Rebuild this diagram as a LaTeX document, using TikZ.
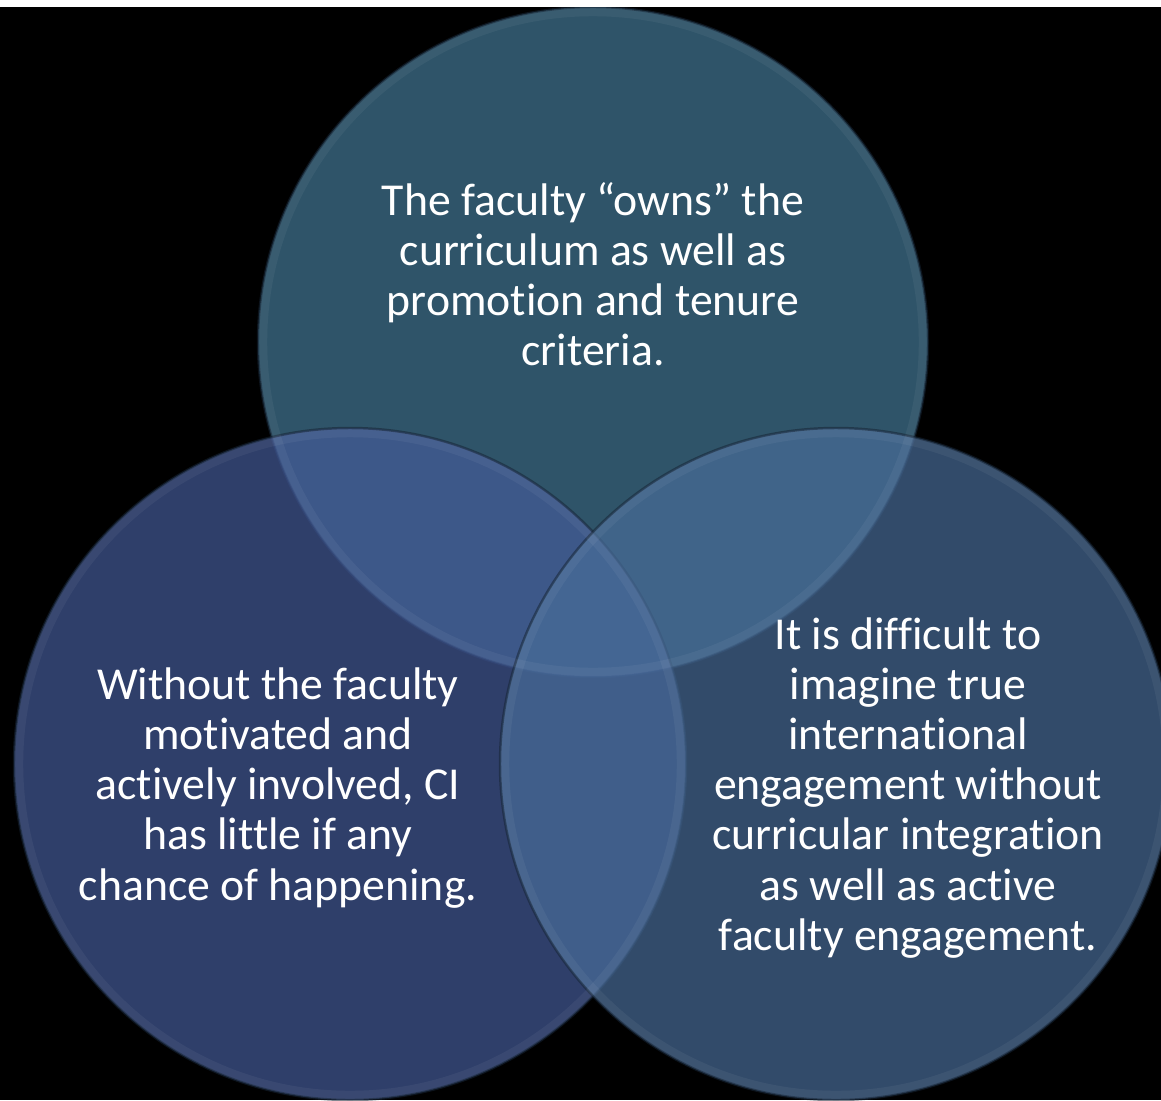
\documentclass[tikz,border=0pt]{standalone}
\usepackage{fontspec}
\setmainfont[Ligatures=NoCommon]{Carlito}
\usetikzlibrary{positioning}

\definecolor{ownsFill}{RGB}{67,121,150}
\definecolor{withoutFill}{RGB}{67,90,152}
\definecolor{engageFill}{RGB}{72,108,152}
\definecolor{rimDark}{RGB}{22,36,52}

\begin{document}
\begin{tikzpicture}[x=0.01cm, y=0.01cm]
\tikzstyle{every node}+=[inner sep=0pt]
\tikzset{
  bubble/.style={fill opacity=0.7, draw=rimDark, draw opacity=0.55, line width=0.7pt},
  rimglow/.style={draw=white, draw opacity=0.05, line width=2.4pt},
  bubbletext/.style={text=white, align=center, font=\fontsize{13}{14.23}\selectfont}
}
\useasboundingbox (0,0) rectangle (1161,-1100);
\fill [black] (0,0) rectangle (1161,-1100);
% the three circles
\coordinate (ownsC) at (593,-342);
\coordinate (withoutC) at (350,-764);
\coordinate (engageC) at (836,-764);
\filldraw [bubble, fill=ownsFill] (ownsC) circle (335);
\filldraw [bubble, fill=withoutFill] (withoutC) circle (336);
\filldraw [bubble, fill=engageFill] (engageC) circle (336);
\draw [rimglow] (ownsC) circle (330);
\draw [rimglow] (withoutC) circle (331);
\draw [rimglow] (engageC) circle (331);
% strip along the top edge
\fill [white] (0,0) rectangle (1161,-7);
% texts
\node (ownsText) [bubbletext] at (593,-274) {The faculty “owns” the\\curriculum as well as\\promotion and tenure\\criteria.};
\node (withoutText) [bubbletext] at (278,-788) {Without the faculty\\motivated and\\actively involved, CI\\has little if any\\chance of happening.};
\node (engageText) [bubbletext] at (908,-788) {It is difficult to\\imagine true\\international\\engagement without\\curricular integration\\as well as active\\faculty engagement.};
\end{tikzpicture}
\end{document}
